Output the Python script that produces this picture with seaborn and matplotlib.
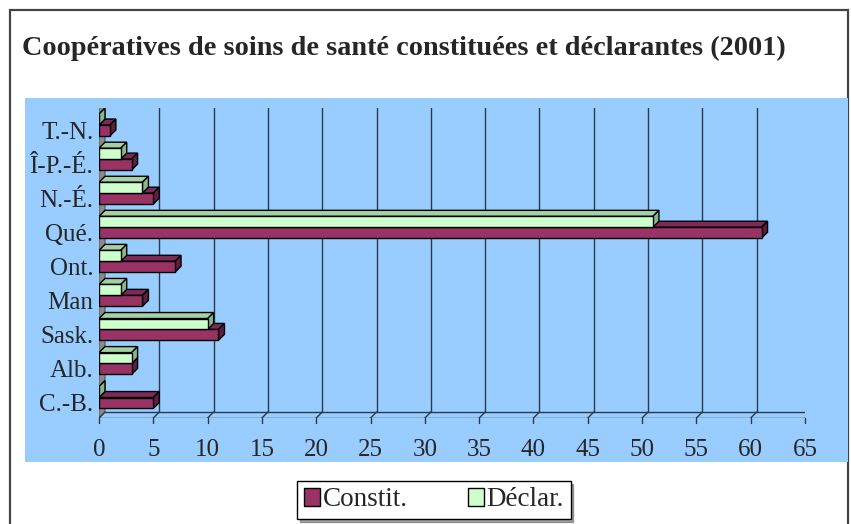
import numpy as np
import pandas as pd
import seaborn as sns
from matplotlib import pyplot as plt
from matplotlib.patches import Polygon, Rectangle, Patch
from matplotlib import transforms as mtransforms

# data (top to bottom)
provinces = ['T.-N.', 'Î-P.-É.', 'N.-É.', 'Qué.', 'Ont.', 'Man', 'Sask.', 'Alb.', 'C.-B.']
constit = [1, 3, 5, 61, 7, 4, 11, 3, 5]
declar = [0, 2, 4, 51, 2, 2, 10, 3, 0]
ticks = list(range(0, 70, 5))

title = "Coopératives de soins de santé constituées et déclarantes (2001)"
maroon, maroon_top, maroon_side = '#993366', '#7d2a55', '#5e1f40'
green, green_top, green_side = '#ccffcc', '#a3d1a3', '#88b888'
blue = '#99ccff'

df = pd.DataFrame({
    'prov': provinces * 2,
    'val': declar + constit,
    'serie': ['Déclar.'] * len(provinces) + ['Constit.'] * len(provinces),
})

sns.set_style("white")
plt.rcParams['font.family'] = ['Liberation Serif', 'DejaVu Serif']

W, H = 851, 524
fig = plt.figure(figsize=(W / 100, H / 100), dpi=100)

def px(x0, y0, x1, y1):
    # pixel box (top-left origin) -> figure fraction rect
    return [x0 / W, 1 - y1 / H, (x1 - x0) / W, (y1 - y0) / H]

# outer border + blue chart area
fig.patches.append(Rectangle((10 / W, -0.05), 838 / W, 1 - 10 / H + 0.05,
                             transform=fig.transFigure, fill=False,
                             edgecolor='#444444', lw=1.6, zorder=0))
fig.patches.append(Rectangle((25 / W, 1 - 462 / H), 823 / W, 364 / H,
                             transform=fig.transFigure, facecolor=blue,
                             edgecolor='none', zorder=0))

fig.text(22 / W, 1 - 48 / H, title, fontsize=20.3, fontweight='bold',
         ha='left', va='center')

ax = fig.add_axes(px(99, 108, 805, 418))
ax.set_facecolor('none')
ax.set_zorder(2)

sns.barplot(data=df, y='prov', x='val', hue='serie', orient='h',
            order=provinces, hue_order=['Déclar.', 'Constit.'],
            palette=[green, maroon], width=0.64, saturation=1,
            edgecolor='black', linewidth=1.0, legend=False, ax=ax)

ax.set_xlim(0, 65)
ax.set_ylim(8.6, -0.5)
for s in ax.spines.values():
    s.set_visible(False)
ax.set_xlabel('')
ax.set_ylabel('')

DX, DY = 6, 6

def shift(x, y):
    p = ax.transData.transform((x, y)) + np.array([DX, DY])
    return tuple(ax.transData.inverted().transform(p))

y_lo, y_hi = 8.6, -0.5
grid_kw = dict(color='#2b3a4a', lw=1.0, zorder=1)

# left wall
wall = [(0, y_lo), (0, y_hi), shift(0, y_hi), shift(0, y_lo)]
ax.add_patch(Polygon(wall, closed=True, facecolor='#8a8a8a',
                     edgecolor='#555555', lw=0.8, zorder=1))

# back-wall grid, floor and ticks
for t in ticks:
    bx0, by0 = shift(t, y_lo)
    bx1, by1 = shift(t, y_hi)
    if t > 0:
        ax.plot([bx0, bx1], [by0, by1], **grid_kw)
    ax.plot([t, bx0], [y_lo, by0], **grid_kw)
    tx = ax.transData.transform((t, y_lo))
    tick_end = ax.transData.inverted().transform(tx - np.array([0, 5]))
    ax.plot([t, t], [y_lo, tick_end[1]], color='#2b3a4a', lw=1.0,
            zorder=1, clip_on=False)
fx0, fy0 = shift(0, y_lo)
fx1, fy1 = shift(65, y_lo)
ax.plot([fx0, fx1], [fy0, fy1], **grid_kw)
ax.plot([0, 65], [y_lo, y_lo], **grid_kw)

# 3D caps on every bar
faces = [(green_top, green_side, 3), (maroon_top, maroon_side, 2)]
for cont, (ctop, cside, z) in zip(ax.containers, faces):
    for p in cont:
        x0, y0 = p.get_x(), p.get_y()
        w, h = p.get_width(), p.get_height()
        x1 = x0 + w
        top = [(x0, y0), (x1, y0), shift(x1, y0), shift(x0, y0)]
        side = [(x1, y0), (x1, y0 + h), shift(x1, y0 + h), shift(x1, y0)]
        ax.add_patch(Polygon(top, closed=True, facecolor=ctop,
                             edgecolor='black', lw=1.0, zorder=z))
        ax.add_patch(Polygon(side, closed=True, facecolor=cside,
                             edgecolor='black', lw=1.0, zorder=z))
        p.set_zorder(z + 0.1)

ax.set_xticks(ticks)
ax.set_xticklabels([str(t) for t in ticks], fontsize=18)
ax.tick_params(axis='x', length=0, pad=15)
ax.tick_params(axis='y', length=0, pad=4, labelsize=18)
shift_down = mtransforms.ScaledTranslation(0, -5 / 100, fig.dpi_scale_trans)
for lab in ax.get_yticklabels():
    lab.set_transform(lab.get_transform() + shift_down)

handles = [Patch(facecolor=maroon, edgecolor='black'),
           Patch(facecolor=green, edgecolor='black')]
leg = fig.legend(handles, ['Constit.', 'Déclar.'], loc='center',
                 bbox_to_anchor=(434 / W, 1 - 500 / H), ncol=2, fontsize=19.5,
                 frameon=True, fancybox=False, shadow=True, edgecolor='black',
                 framealpha=1, borderpad=0.25, handlelength=0.6,
                 handleheight=0.6, handletextpad=0.1, columnspacing=2.2,
                 borderaxespad=0)
leg.set_zorder(3)

fig.savefig('out.png', dpi=100)
